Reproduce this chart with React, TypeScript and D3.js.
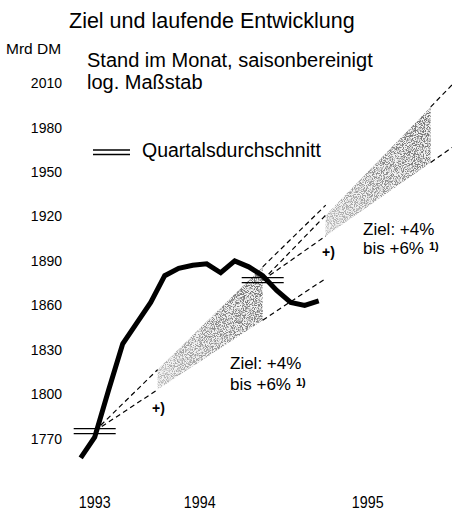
import React from 'react';
import * as d3 from 'd3';

// months counted from 1 Jan 1993, values are mid-month (Oct 1993 .. Mar 1995)
const m3Start = 9.5;
const m3Values = [1757, 1771, 1803, 1834, 1848, 1862, 1880, 1885, 1887, 1888, 1882, 1890, 1886, 1880, 1870, 1862, 1860, 1863];

// quarterly averages (Q4 1993, Q4 1994)
const quarterMonths = [10.5, 22.5];
const quarterValues = [1775, 1877];

// target corridors: base = Q4 average, ends = value 12 months later
const corridorBaseMonth = [10.5, 22.5];
const corridorBase = [1775, 1877];
const corridorUpper = [1886, 1994];
const corridorLower = [1850, 1956.5];

const yTicks = [1770, 1800, 1830, 1860, 1890, 1920, 1950, 1980, 2010];
const xLabels = ['1993', '1994', '1995'];
const xLabelMonths = [10.5, 18, 30];

const W = 452;
const H = 510;
const font = "'Liberation Sans', Arial, sans-serif";

const App = () => {
	const x = d3.scaleLinear().domain([12, 24]).range([115.7, 283.7]);
	const y = d3.scaleLinear().domain([1770, 2010]).range([438.6, 83.2]);

	const line = d3
		.line<number>()
		.x((d, i) => x(m3Start + i))
		.y((d) => y(d));

	const corridorValue = (c: number, m: number, end: number[]) =>
		corridorBase[c] + ((end[c] - corridorBase[c]) * (m - corridorBaseMonth[c])) / 12;

	const seg = (c: number, m0: number, m1: number, end: number[]) => {
		const b = corridorBaseMonth[c];
		return `M${x(b + m0)},${y(corridorValue(c, b + m0, end))}L${x(b + m1)},${y(corridorValue(c, b + m1, end))}`;
	};

	const shade = (c: number) => {
		const b = corridorBaseMonth[c];
		const pts: [number, number][] = [
			[x(b + 4.5), y(corridorValue(c, b + 4.5, corridorUpper))],
			[x(b + 12), y(corridorValue(c, b + 12, corridorUpper))],
			[x(b + 12), y(corridorValue(c, b + 12, corridorLower))],
			[x(b + 4.5), y(corridorValue(c, b + 4.5, corridorLower))],
		];
		return 'M' + pts.map((p) => p.join(',')).join('L') + 'Z';
	};

	return (
		<>
			<style>{'body{margin:0}'}</style>
			<svg width={W} height={H} style={{ display: 'block', background: '#fff' }} fontFamily={font}>
				<defs>
					<linearGradient id='shadeGrad' x1='0' x2='1' y1='1' y2='0'>
						<stop offset='0' stopColor='#bdbdbd' />
						<stop offset='0.55' stopColor='#8a8a8a' />
						<stop offset='1' stopColor='#6e6e6e' />
					</linearGradient>
					<filter id='stipple' x='0' y='0' width='1' height='1'>
						<feTurbulence type='fractalNoise' baseFrequency='1.1' numOctaves='2' seed='5' result='n' />
						<feColorMatrix
							in='n'
							type='matrix'
							values='0 0 0 0 0  0 0 0 0 0  0 0 0 0 0  5 0 0 0 -2.1'
							result='m'
						/>
						<feComposite in='SourceGraphic' in2='m' operator='in' />
					</filter>
				</defs>

				{/* titles */}
				<text x={69} y={28} fontSize={21.5}>Ziel und laufende Entwicklung</text>
				<text x={6} y={54} fontSize={15.5}>Mrd DM</text>
				<text x={87} y={67} fontSize={20}>Stand im Monat, saisonbereinigt</text>
				<text x={87} y={89} fontSize={20}>log. Maßstab</text>

				{/* legend */}
				<line x1={93} x2={130} y1={150} y2={150} stroke='#000' strokeWidth={1.3} />
				<line x1={93} x2={130} y1={154.5} y2={154.5} stroke='#000' strokeWidth={1.3} />
				<text x={142} y={157} fontSize={19.5}>Quartalsdurchschnitt</text>

				{/* y tick labels */}
				{yTicks.map((v) => (
					<text key={v} x={62} y={y(v) + 5} fontSize={14} textAnchor='end'>
						{v}
					</text>
				))}

				{/* x labels */}
				{xLabels.map((d, i) => (
					<text
						key={d}
						transform={`translate(${x(xLabelMonths[i])},508) scale(0.84,1)`}
						fontSize={17}
						textAnchor='middle'
					>
						{d}
					</text>
				))}

				{/* corridors */}
				{corridorBase.map((_, c) => (
					<g key={'c' + c}>
						<path d={shade(c)} fill='#e6e6e6' opacity={0.5} />
						<path d={shade(c)} fill='url(#shadeGrad)' filter='url(#stipple)' />
						{[corridorUpper, corridorLower].map((end, k) => (
							<g key={k} fill='none' stroke='#000' strokeWidth={1.2} strokeDasharray='5,3.5'>
								<path d={seg(c, 0, 4.5, end)} />
								<path d={seg(c, 12, 16.5, end)} />
							</g>
						))}
					</g>
				))}

				{/* monthly values */}
				<path d={line(m3Values) || ''} fill='none' stroke='#000' strokeWidth={5} strokeLinejoin='miter' />

				{/* quarterly averages */}
				{quarterMonths.map((m, i) => (
					<g key={'q' + i} stroke='#000' strokeWidth={1.3}>
						<line x1={x(m - 1.5)} x2={x(m + 1.5)} y1={y(quarterValues[i]) - 2.5} y2={y(quarterValues[i]) - 2.5} />
						<line x1={x(m - 1.5)} x2={x(m + 1.5)} y1={y(quarterValues[i]) + 2.5} y2={y(quarterValues[i]) + 2.5} />
					</g>
				))}

				{/* annotations */}
				<text x={230} y={369} fontSize={17}>Ziel: +4%</text>
				<text x={230} y={390} fontSize={17}>
					bis +6%
					<tspan dx={5} dy={-4} fontSize={11} fontWeight='bold'>1)</tspan>
				</text>
				<text x={152} y={412.5} fontSize={14} fontWeight='bold'>+)</text>

				<text x={363} y={235} fontSize={17}>Ziel: +4%</text>
				<text x={363} y={254} fontSize={17}>
					bis +6%
					<tspan dx={5} dy={-4} fontSize={11} fontWeight='bold'>1)</tspan>
				</text>
				<text x={322} y={256.5} fontSize={14} fontWeight='bold'>+)</text>
			</svg>
		</>
	);
};

export default App;
